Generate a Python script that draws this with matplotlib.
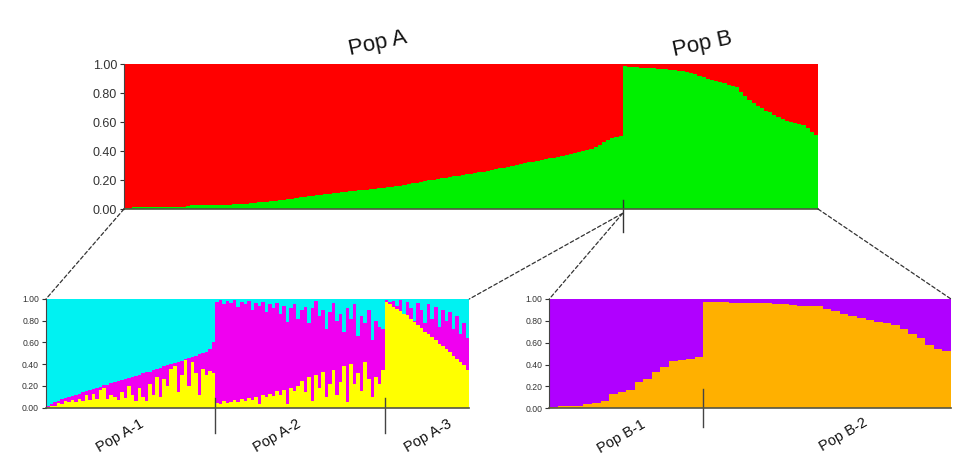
import numpy as np
import matplotlib
matplotlib.use("Agg")
import matplotlib.pyplot as plt
from matplotlib.patches import ConnectionPatch

plt.rcParams['font.family'] = ['Liberation Sans', 'DejaVu Sans']

# ---- top panel (K=2): green share per individual, sorted inside each pop
top_popA_green = [
    0.010, 0.010, 0.012, 0.012, 0.013, 0.014, 0.014, 0.015, 0.015, 0.015,
    0.016, 0.016, 0.016, 0.017, 0.017, 0.018, 0.025, 0.026, 0.026, 0.027,
    0.027, 0.028, 0.028, 0.029, 0.030, 0.031, 0.032, 0.034, 0.036, 0.038,
    0.040, 0.042, 0.045, 0.048, 0.050, 0.053, 0.056, 0.060, 0.064, 0.068,
    0.072, 0.076, 0.080, 0.084, 0.087, 0.090, 0.094, 0.098, 0.102, 0.106,
    0.110, 0.113, 0.116, 0.119, 0.122, 0.125, 0.128, 0.131, 0.134, 0.137,
    0.140, 0.143, 0.146, 0.149, 0.153, 0.157, 0.162, 0.167, 0.172, 0.177,
    0.182, 0.187, 0.192, 0.197, 0.202, 0.207, 0.212, 0.217, 0.222, 0.226,
    0.230, 0.235, 0.240, 0.244, 0.248, 0.253, 0.258, 0.263, 0.268, 0.274,
    0.280, 0.286, 0.292, 0.298, 0.304, 0.310, 0.316, 0.322, 0.328, 0.334,
    0.340, 0.346, 0.350, 0.355, 0.360, 0.366, 0.372, 0.378, 0.385, 0.392,
    0.398, 0.405, 0.415, 0.428, 0.440, 0.460, 0.478, 0.490, 0.498, 0.502,
]
top_popB_green = [
    0.985, 0.982, 0.980, 0.978, 0.976, 0.975, 0.973, 0.972, 0.970, 0.968,
    0.966, 0.963, 0.960, 0.957, 0.954, 0.950, 0.940, 0.930, 0.920, 0.910,
    0.900, 0.893, 0.887, 0.880, 0.870, 0.860, 0.850, 0.840, 0.810, 0.780,
    0.750, 0.730, 0.710, 0.695, 0.680, 0.670, 0.650, 0.635, 0.620, 0.610,
    0.600, 0.592, 0.585, 0.578, 0.560, 0.535, 0.510,
]

# ---- bottom left (Pop A, K=3): yellow share and yellow+magenta cumulative
A1_yellow = [
    0.01, 0.02, 0.02, 0.04, 0.03, 0.06, 0.05, 0.07, 0.05, 0.08,
    0.06, 0.12, 0.07, 0.13, 0.08, 0.16, 0.18, 0.08, 0.12, 0.10,
    0.07, 0.14, 0.09, 0.20, 0.12, 0.06, 0.18, 0.10, 0.06, 0.22,
    0.12, 0.28, 0.10, 0.26, 0.20, 0.36, 0.38, 0.14, 0.30, 0.44,
    0.20, 0.42, 0.32, 0.12, 0.36, 0.30, 0.34, 0.32,
]
A1_cum = [
    0.02, 0.035, 0.05, 0.065, 0.08, 0.09, 0.10, 0.112, 0.12, 0.13,
    0.142, 0.15, 0.16, 0.175, 0.185, 0.195, 0.205, 0.213, 0.225, 0.236,
    0.245, 0.254, 0.265, 0.277, 0.285, 0.293, 0.305, 0.316, 0.325, 0.333,
    0.345, 0.36, 0.368, 0.38, 0.392, 0.40, 0.41, 0.42, 0.432, 0.445,
    0.455, 0.466, 0.475, 0.49, 0.50, 0.515, 0.54, 0.60,
]
A2_yellow = [
    0.04, 0.03, 0.06, 0.04, 0.05, 0.07, 0.05, 0.08, 0.06, 0.09,
    0.07, 0.10, 0.03, 0.12, 0.10, 0.13, 0.11, 0.15, 0.12, 0.16,
    0.03, 0.18, 0.15, 0.20, 0.25, 0.14, 0.28, 0.06, 0.30, 0.18,
    0.33, 0.10, 0.22, 0.35, 0.12, 0.24, 0.38, 0.05, 0.40, 0.22,
    0.32, 0.15, 0.42, 0.26, 0.10, 0.28, 0.22, 0.35,
]
A2_cum = [
    0.97, 0.99, 0.95, 0.98, 0.96, 0.99, 0.93, 0.97, 0.95, 0.98,
    0.90, 0.96, 0.94, 0.97, 0.88, 0.95, 0.92, 0.96, 0.86, 0.94,
    0.79, 0.92, 0.95, 0.82, 0.90, 0.93, 0.78, 0.92, 0.98, 0.84,
    0.90, 0.72, 0.88, 0.96, 0.80, 0.86, 0.70, 0.92, 0.82, 0.95,
    0.66, 0.84, 0.78, 0.90, 0.62, 0.80, 0.74, 0.72,
]
A3_yellow = [
    0.97, 0.95, 0.93, 0.91, 0.89, 0.87, 0.85, 0.82, 0.79, 0.76,
    0.73, 0.70, 0.68, 0.65, 0.62, 0.59, 0.57, 0.54, 0.51, 0.48,
    0.45, 0.42, 0.39, 0.35,
]
A3_cum = [
    0.99, 0.97, 0.98, 0.94, 0.99, 0.86, 0.97, 0.92, 0.80, 0.96,
    0.90, 0.78, 0.95, 0.82, 0.93, 0.74, 0.90, 0.80, 0.88, 0.72,
    0.84, 0.68, 0.78, 0.64,
]

# ---- bottom right (Pop B, K=2): orange share
B1_orange = [
    0.010, 0.018, 0.018, 0.018, 0.037, 0.050, 0.065, 0.130, 0.150,
    0.170, 0.245, 0.270, 0.330, 0.380, 0.430, 0.445, 0.455, 0.467,
]
B2_orange = [
    0.975, 0.972, 0.970, 0.965, 0.960, 0.960, 0.960, 0.960, 0.958, 0.955,
    0.945, 0.940, 0.940, 0.932, 0.910, 0.890, 0.865, 0.845, 0.830, 0.810,
    0.790, 0.780, 0.765, 0.730, 0.680, 0.640, 0.580, 0.540, 0.520,
]

W, H = 966, 459
fig = plt.figure(figsize=(W / 100, H / 100), dpi=100)


def px_axes(left, top, right, bottom):
    return fig.add_axes([left / W, 1 - bottom / H, (right - left) / W, (bottom - top) / H])


def style(ax, n, fs):
    ax.set_xlim(0, n)
    ax.set_ylim(0, 1)
    ax.set_yticks([0, 0.2, 0.4, 0.6, 0.8, 1.0])
    ax.set_yticklabels(['0.00', '0.20', '0.40', '0.60', '0.80', '1.00'])
    ax.tick_params(axis='y', labelsize=fs, colors='#333333', length=3, width=0.8, pad=2)
    ax.set_xticks([])
    for s in ['top', 'right']:
        ax.spines[s].set_visible(False)
    ax.spines['left'].set_color('#444444')
    ax.spines['bottom'].set_color('#555544')
    ax.spines['bottom'].set_linewidth(1.2)


# top panel
red, green = '#ff0000', '#00f000'
topg = np.array(top_popA_green + top_popB_green)
nA, nB = len(top_popA_green), len(top_popB_green)
x = np.arange(len(topg))
ax_top = px_axes(124, 64.3, 818, 209)
ax_top.bar(x, topg, width=1, align='edge', color=green, linewidth=0)
ax_top.bar(x, 1 - topg, bottom=topg, width=1, align='edge', color=red, linewidth=0)
style(ax_top, len(topg), 9)
ax_top.plot([nA, nA], [0.06, -0.16], color='#333333', lw=1, clip_on=False)

# bottom left panel
cyan, magenta, yellow = '#00f2f2', '#f000f0', '#ffff00'
yel = np.array(A1_yellow + A2_yellow + A3_yellow)
cum = np.array(A1_cum + A2_cum + A3_cum)
xl = np.arange(len(yel))
ax_bl = px_axes(46, 299, 469.3, 407.7)
ax_bl.bar(xl, yel, width=1, align='edge', color=yellow, linewidth=0)
ax_bl.bar(xl, cum - yel, bottom=yel, width=1, align='edge', color=magenta, linewidth=0)
ax_bl.bar(xl, 1 - cum, bottom=cum, width=1, align='edge', color=cyan, linewidth=0)
style(ax_bl, len(yel), 6.2)
b1 = len(A1_yellow)
b2 = b1 + len(A2_yellow)
for b in [b1, b2]:
    ax_bl.plot([b, b], [0.09, -0.23], color='#444444', lw=1, clip_on=False)

# bottom right panel
purple, orange = '#b000ff', '#ffb000'
org = np.array(B1_orange + B2_orange)
xr = np.arange(len(org))
ax_br = px_axes(549.3, 299, 951, 408.3)
ax_br.bar(xr, org, width=1, align='edge', color=orange, linewidth=0)
ax_br.bar(xr, 1 - org, bottom=org, width=1, align='edge', color=purple, linewidth=0)
style(ax_br, len(org), 6.2)
nb1 = len(B1_orange)
ax_br.plot([nb1, nb1], [0.18, -0.17], color='#444444', lw=1, clip_on=False)

# dashed zoom connectors
dash = dict(color='#333333', lw=0.9, linestyle=(0, (3, 2)))
for xyA, axB, xyB in [((0, 0), ax_bl, (0, 1)), ((nA, -0.03), ax_bl, (len(yel), 1)),
                      ((nA, -0.03), ax_br, (0, 1)), ((len(topg), 0), ax_br, (len(org), 1))]:
    fig.add_artist(ConnectionPatch(xyA=xyA, coordsA=ax_top.transData,
                                   xyB=xyB, coordsB=axB.transData, **dash))

# labels
def ftext(xp, yp, s, size, rot):
    fig.text(xp / W, 1 - yp / H, s, fontsize=size, rotation=rot,
             ha='center', va='center', color='#111111')


ftext(378, 44, 'Pop A', 16, 12)
ftext(702, 44, 'Pop B', 16, 12)
ftext(120, 436, 'Pop A-1', 10.5, 30)
ftext(277, 436, 'Pop A-2', 10.5, 30)
ftext(428, 436, 'Pop A-3', 10.5, 30)
ftext(621, 437, 'Pop B-1', 10.5, 30)
ftext(843, 435, 'Pop B-2', 10.5, 30)

fig.savefig('out.png', dpi=100)
